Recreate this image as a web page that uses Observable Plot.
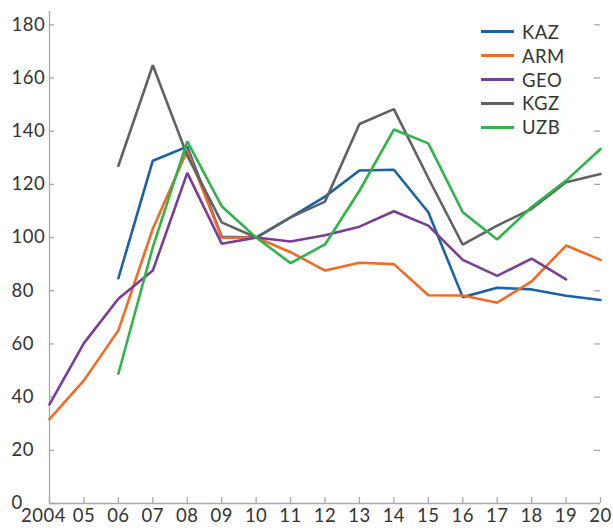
<!DOCTYPE html>
<html>
<head>
<meta charset="utf-8">
<script src="https://cdn.jsdelivr.net/npm/d3@7"></script>
<script src="https://cdn.jsdelivr.net/npm/@observablehq/plot@0.6"></script>
<style>
  body { margin: 0; background: #fff; }
  #chart { position: relative; width: 613px; height: 531px; font-family: Lato, "Noto Sans", sans-serif; }
  #chart svg { position: absolute; left: 0; top: 0; }
  #legend { position: absolute; left: 481px; top: 20px; }
  .row { display: flex; align-items: center; height: 23.85px; font-size: 18.5px; letter-spacing: 0.5px; color: #333; }
  .sw { width: 33px; height: 3px; margin-right: 8px; }
</style>
</head>
<body>
<div id="chart"><div id="legend"></div></div>
<script>
const years = [2004, 2005, 2006, 2007, 2008, 2009, 2010, 2011, 2012, 2013, 2014, 2015, 2016, 2017, 2018, 2019, 2020];
const xTickLabels = ["2004", "05", "06", "07", "08", "09", "10", "11", "12", "13", "14", "15", "16", "17", "18", "19", "20"];
const yTicks = [0, 20, 40, 60, 80, 100, 120, 140, 160, 180];

const names = ["KAZ", "ARM", "GEO", "KGZ", "UZB"];
const colors = ["#1b62a5", "#f26a24", "#7b3c99", "#5f6265", "#2fb34a"];

const KAZ = [null, null, 84.7, 128.9, 134.2, 100.3, 100, 107.6, 115.4, 125.2, 125.5, 109.5, 77.6, 81.1, 80.5, 78.1, 76.5];
const ARM = [31.7, 46.3, 65.1, 103.3, 132.7, 99.9, 100, 94.5, 87.6, 90.5, 90.0, 78.3, 78.2, 75.5, 83.5, 97.0, 91.6];
const GEO = [37.3, 60.3, 77.0, 87.6, 124.3, 97.7, 100, 98.5, 100.9, 104.1, 109.9, 104.5, 91.6, 85.6, 92.1, 84.3, null];
const KGZ = [null, null, 127.0, 164.8, 130.8, 105.7, 100, 107.6, 113.5, 142.7, 148.3, 122.4, 97.3, 104.5, 110.8, 120.8, 123.9];
const UZB = [null, null, 48.8, 96.4, 136.2, 111.8, 100, 90.4, 97.4, 117.6, 140.6, 135.4, 109.5, 99.3, 111.5, 121.4, 133.3];

const seriesValues = [KAZ, ARM, GEO, KGZ, UZB];
const data = [];
names.forEach((name, s) => {
  years.forEach((year, i) => {
    const v = seriesValues[s][i];
    if (v != null) data.push({ name, year, value: v });
  });
});
const xLabelRows = years.map((year, i) => ({ year, label: xTickLabels[i] }));

const axisColor = "#a8a8a8";
const fs = 18.5;
const chart = Plot.plot({
  width: 613,
  height: 531,
  marginLeft: 49,
  marginRight: 13,
  marginTop: 11,
  marginBottom: 28,
  x: { domain: [2004, 2020], axis: null },
  y: { domain: [0, 185], axis: null },
  color: { domain: names, range: colors },
  style: { fontFamily: "Lato, 'Noto Sans', sans-serif", fontSize: fs + "px", color: "#333", background: "transparent", letterSpacing: "0.5px" },
  marks: [
    Plot.ruleX([2004], { stroke: axisColor, strokeWidth: 1.3 }),
    Plot.ruleY([0], { x1: 2004, x2: 2020, stroke: axisColor, strokeWidth: 1.3 }),
    Plot.ruleX(years, { x: d => d, y1: 0, y2: 0, insetTop: -6, stroke: axisColor, strokeWidth: 1.3 }),
    Plot.ruleY(yTicks, { y: d => d, x1: 2004, x2: 2004, insetRight: -5, stroke: axisColor, strokeWidth: 1.3 }),
    Plot.ruleY(yTicks.filter(d => d > 0), { y: d => d, x1: 2020, x2: 2020, insetLeft: -6, stroke: axisColor, strokeWidth: 1.3 }),
    Plot.line(data, { x: "year", y: "value", z: "name", stroke: "name", strokeWidth: 2.6, strokeLinejoin: "miter" }),
    Plot.text(yTicks, { y: d => d, text: d => String(d), frameAnchor: "left", dx: -38, textAnchor: "start", fill: "#333", fontSize: fs }),
    Plot.text(xLabelRows.slice(0, 1), { x: "year", text: "label", frameAnchor: "bottom", dy: 18, dx: -6, fill: "#333", fontSize: fs }),
    Plot.text(xLabelRows.slice(1), { x: "year", text: "label", frameAnchor: "bottom", dy: 18, fill: "#333", fontSize: fs })
  ]
});
const root = document.getElementById("chart");
root.insertBefore(chart, root.firstChild);

const legend = document.getElementById("legend");
names.forEach((name, i) => {
  const row = document.createElement("div");
  row.className = "row";
  const sw = document.createElement("div");
  sw.className = "sw";
  sw.style.background = colors[i];
  const t = document.createElement("span");
  t.textContent = name;
  row.appendChild(sw);
  row.appendChild(t);
  legend.appendChild(row);
});
</script>
</body>
</html>
